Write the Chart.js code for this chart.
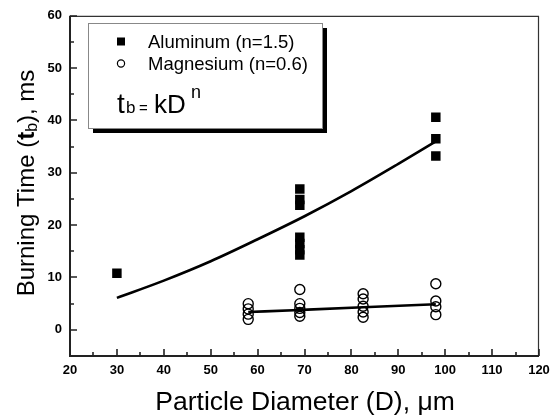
<!DOCTYPE html>
<html><head><meta charset="utf-8">
<script src="https://cdn.jsdelivr.net/npm/chart.js@4/dist/chart.umd.min.js"></script>
<style>html,body{margin:0;padding:0;background:#fff}#wrap{width:557px;height:418px}</style>
</head><body><div id="wrap"><canvas id="c" width="557" height="418"></canvas></div>
<script>
// Aluminum measurements (filled squares)
const alD = [30, 69, 69, 69, 69, 69, 69, 69, 98, 98, 98];
const alT = [10.8, 26.9, 24.9, 23.8, 17.7, 16.5, 15.3, 14.3, 40.6, 36.5, 33.2];
// Magnesium measurements (open circles)
const mgD = [58, 58, 58, 58, 69, 69, 69, 69, 69, 82.5, 82.5, 82.5, 82.5, 82.5, 98, 98, 98, 98];
const mgT = [5.0, 4.0, 3.0, 2.0, 7.7, 5.0, 4.1, 3.3, 2.6, 6.9, 5.9, 4.5, 3.4, 2.4, 8.8, 5.5, 4.4, 2.9];
// fitted curves
const alFitD = [30, 40, 50, 60, 70, 80, 90, 98];
const alFitT = [6.1, 9.4, 13.1, 17.3, 21.7, 26.5, 31.7, 36.0];
const mgFitD = [58, 69, 82.5, 98];
const mgFitT = [3.4, 3.8, 4.3, 4.9];
// tick labels
const xTickLabels = [20, 30, 40, 50, 60, 70, 80, 90, 100, 110, 120];
const yTickLabels = [0, 10, 20, 30, 40, 50, 60];
const legendLabels = ['Aluminum (n=1.5)', 'Magnesium (n=0.6)'];

const SANS = '"Liberation Sans", Arial, Helvetica, sans-serif';
const pts = (xs, ys) => xs.map((x, i) => ({x: x, y: ys[i]}));

const framePlugin = {
  id: 'frame',
  afterDraw(chart) {
    const ctx = chart.ctx, a = chart.chartArea;
    const xs = chart.scales.x, ys = chart.scales.y;
    ctx.save();
    // frame
    ctx.strokeStyle = '#333';
    ctx.lineWidth = 1.2;
    ctx.beginPath();
    ctx.moveTo(a.left, a.top + 0.5); ctx.lineTo(a.right, a.top + 0.5);
    ctx.moveTo(a.right - 0.5, a.top); ctx.lineTo(a.right - 0.5, a.bottom);
    ctx.stroke();
    ctx.lineWidth = 2;
    ctx.strokeStyle = '#222';
    ctx.beginPath();
    ctx.moveTo(a.left, a.top); ctx.lineTo(a.left, a.bottom);
    ctx.lineTo(a.right, a.bottom);
    ctx.stroke();
    // inward ticks
    ctx.lineWidth = 1.6;
    ctx.beginPath();
    xs.ticks.forEach(t => {
      const px = Math.round(xs.getPixelForValue(t.value));
      const len = xTickLabels.includes(t.value) ? 7 : 4;
      ctx.moveTo(px, a.bottom); ctx.lineTo(px, a.bottom - len);
    });
    ys.ticks.forEach(t => {
      if (t.value < 0) return;
      const py = Math.round(ys.getPixelForValue(t.value));
      const len = yTickLabels.includes(t.value) ? 7 : 4;
      ctx.moveTo(a.left, py); ctx.lineTo(a.left + len, py);
    });
    ctx.stroke();

    // axis titles
    ctx.fillStyle = '#000';
    ctx.textBaseline = 'alphabetic';
    // y title
    ctx.save();
    ctx.translate(34, 183);
    ctx.rotate(-Math.PI / 2);
    const yParts = [
      ['Burning Time (', 'normal 24px ' + SANS, 0],
      ['t', 'bold 24px ' + SANS, 0],
      ['b', 'normal 16px ' + SANS, 3],
      ['), ms', 'normal 24px ' + SANS, 0]
    ];
    let tot = 0;
    yParts.forEach(p => { ctx.font = p[1]; tot += ctx.measureText(p[0]).width; });
    let cx = -tot / 2;
    yParts.forEach(p => { ctx.font = p[1]; ctx.fillText(p[0], cx, p[2]); cx += ctx.measureText(p[0]).width; });
    ctx.restore();
    // x title
    ctx.font = 'normal 26.5px ' + SANS;
    ctx.textAlign = 'center';
    ctx.fillText('Particle Diameter (D), \u03BCm', 305, 410);
    ctx.textAlign = 'left';

    // legend box with shadow
    const bx = 88, by = 23, bw = 234, bh = 105;
    ctx.fillStyle = '#000';
    ctx.fillRect(bx + 5, by + 5, bw, bh);
    ctx.fillStyle = '#fff';
    ctx.fillRect(bx, by, bw, bh);
    ctx.strokeStyle = '#888';
    ctx.lineWidth = 1;
    ctx.strokeRect(bx + 0.5, by + 0.5, bw, bh);
    // legend markers
    ctx.fillStyle = '#000';
    ctx.fillRect(117, 37.5, 8, 8);
    ctx.beginPath();
    ctx.arc(121, 63.5, 3.6, 0, Math.PI * 2);
    ctx.strokeStyle = '#000';
    ctx.lineWidth = 1.2;
    ctx.stroke();
    ctx.font = 'normal 18.5px ' + SANS;
    ctx.fillText(legendLabels[0], 148, 48);
    ctx.fillText(legendLabels[1], 148, 70);
    // formula t_b = kD^n
    ctx.font = 'normal 28px ' + SANS;
    ctx.fillText('t', 117, 113);
    ctx.font = 'normal 17px ' + SANS;
    ctx.fillText('b', 126, 113);
    ctx.font = 'normal 15px ' + SANS;
    ctx.fillText('=', 139, 113);
    ctx.font = 'normal 26px ' + SANS;
    ctx.fillText('kD', 154, 113);
    ctx.font = 'normal 18px ' + SANS;
    ctx.fillText('n', 191, 98);
    ctx.restore();
  }
};

new Chart(document.getElementById('c'), {
  type: 'scatter',
  data: {
    datasets: [
      { label: 'AlFit', data: pts(alFitD, alFitT), showLine: true, borderColor: '#000', borderWidth: 2.6,
        pointRadius: 0, cubicInterpolationMode: 'monotone', fill: false, order: 2 },
      { label: 'MgFit', data: pts(mgFitD, mgFitT), showLine: true, borderColor: '#000', borderWidth: 2.6,
        pointRadius: 0, cubicInterpolationMode: 'monotone', fill: false, order: 2 },
      { label: legendLabels[0], data: pts(alD, alT), pointStyle: 'rect', pointRadius: 6.7,
        backgroundColor: '#000', borderColor: '#000', borderWidth: 0, order: 1 },
      { label: legendLabels[1], data: pts(mgD, mgT), pointStyle: 'circle', pointRadius: 5,
        backgroundColor: 'rgba(0,0,0,0)', borderColor: '#000', borderWidth: 1.4, order: 0 }
    ]
  },
  options: {
    responsive: false,
    animation: false,
    devicePixelRatio: 1,
    layout: { padding: { top: 12, right: 18, left: 0, bottom: 0 } },
    plugins: { legend: { display: false }, tooltip: { enabled: false } },
    scales: {
      x: {
        type: 'linear', min: 20, max: 120,
        grid: { display: false, drawTicks: false },
        border: { display: false },
        ticks: {
          stepSize: 5, autoSkip: false, maxRotation: 0, padding: 7, color: '#000',
          font: { family: SANS, size: 13, weight: 'bold' },
          callback: v => xTickLabels.includes(v) ? String(v) : ''
        },
        afterFit: s => { s.height = 62; }
      },
      y: {
        type: 'linear', min: -5, max: 60,
        grid: { display: false, drawTicks: false },
        border: { display: false },
        ticks: {
          stepSize: 5, autoSkip: false, padding: 8, color: '#000',
          font: { family: SANS, size: 13, weight: 'bold' },
          callback: v => yTickLabels.includes(v) ? String(v) : ''
        },
        afterFit: s => { s.width = 70; }
      }
    }
  },
  plugins: [framePlugin]
});
</script></body></html>
